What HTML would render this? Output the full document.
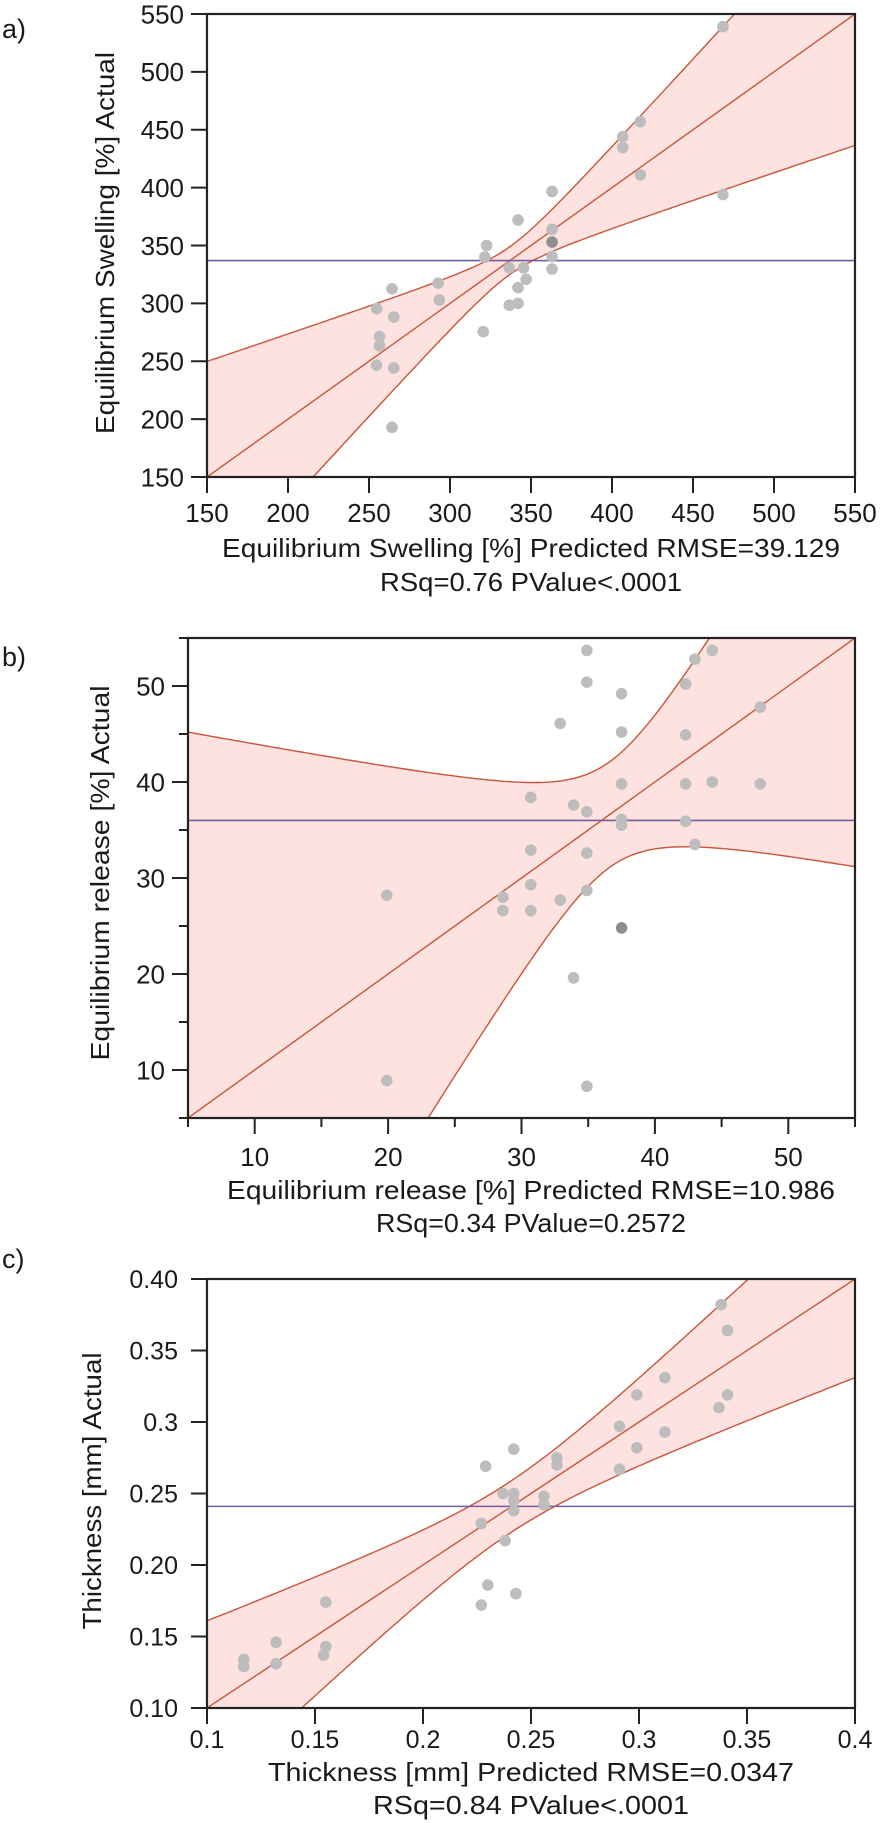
<!DOCTYPE html>
<html><head><meta charset="utf-8"><style>
html,body{margin:0;padding:0;background:#fff}
svg{display:block}
text{font-family:"Liberation Sans",sans-serif;fill:#1a1a1a}
</style></head><body>
<svg id="fig" width="892" height="1823" viewBox="0 0 892 1823" xmlns="http://www.w3.org/2000/svg"></svg>
<script>
// ---- Panel a data ----
const aPredicted = [468.5,417.5,406.6,406.6,417.5,468.5,363,342,363,363,363,363,322.6,321.5,336.6,345.4,347,342,336.6,342,320.5,292.7,293.4,264.2,254.7,265.3,256.5,256.5,254.7,265.3,264.2];
const aActual    = [539,457,444,434.6,411,394,396.7,372,364,353,340.6,329.7,350,340,330.7,330.7,320.8,313.6,298.4,300,275.6,317.5,303,312.6,295.4,288.2,271.4,263.4,246.6,244.3,192.9];
const aDark = [9];
const aTicks = [150,200,250,300,350,400,450,500,550];
const aMean = [337];
const aBand = [337, 12, 0.53]; // center, min half-width, slope factor
// ---- Panel b data ----
const bPredicted = [19.9,19.9,28.6,28.6,30.7,30.7,30.7,30.7,32.9,32.9,33.9,33.9,34.9,34.9,34.9,34.9,34.9,34.9,37.5,37.5,37.5,37.5,37.5,37.5,42.3,42.3,42.3,42.3,43.0,43.0,44.3,44.3,47.9,47.9];
const bActual    = [28.2,8.9,28.0,26.6,38.4,32.9,29.3,26.6,46.1,27.7,37.6,19.6,53.7,50.4,36.9,32.6,28.7,8.3,49.2,45.2,39.8,36.1,35.5,24.8,50.2,44.9,39.8,35.9,52.8,33.5,53.7,40.0,47.8,39.8];
const bDark = [23];
const bTicks = [10,20,30,40,50];
const bMinor = [5,15,25,35,45,55];
const bMean = [36];
const bBand = [36.6, 5.5, 1.26];
// ---- Panel c data ----
const cPredicted = [0.117,0.117,0.132,0.132,0.155,0.155,0.154,0.229,0.230,0.227,0.227,0.237,0.238,0.242,0.242,0.242,0.242,0.243,0.256,0.256,0.262,0.262,0.291,0.291,0.299,0.299,0.312,0.312,0.338,0.337,0.341,0.341];
const cActual    = [0.134,0.129,0.146,0.131,0.174,0.143,0.137,0.269,0.186,0.172,0.229,0.250,0.217,0.281,0.250,0.245,0.238,0.180,0.248,0.242,0.275,0.270,0.297,0.267,0.319,0.282,0.331,0.293,0.382,0.310,0.364,0.319];
const cDark = [];
const cTicks = [0.1,0.15,0.2,0.25,0.3,0.35,0.4];
const cTickLabelsX = ["0.1","0.15","0.2","0.25","0.3","0.35","0.4"];
const cTickLabelsY = ["0.10","0.15","0.20","0.25","0.3","0.35","0.40"];
const cMean = [0.241];
const cBand = [0.24, 0.018, 0.416];

const NS="http://www.w3.org/2000/svg";
const svg=document.getElementById('fig');
function mk(tag,attrs,parent){const e=document.createElementNS(NS,tag);for(const k in attrs)e.setAttribute(k,attrs[k]);(parent||svg).appendChild(e);return e;}

function panel(o){
  const g=mk('g',{});
  
  
  const sx=v=>o.x0+(v-o.xmin)/(o.xmax-o.xmin)*(o.x1-o.x0);
  const sy=v=>o.y1-(v-o.ymin)/(o.ymax-o.ymin)*(o.y1-o.y0);
  const cid='clip'+o.id;
  const cp=mk('clipPath',{id:cid},g);
  mk('rect',{x:o.x0,y:o.y0,width:o.x1-o.x0,height:o.y1-o.y0},cp);
  const pg=mk('g',{'clip-path':'url(#'+cid+')'},g);
  const N=200, up=[], lo=[];
  for(let i=0;i<=N;i++){const x=o.xmin+(o.xmax-o.xmin)*i/N;
    const h=Math.sqrt(o.band[1]*o.band[1]+o.band[2]*o.band[2]*(x-o.band[0])*(x-o.band[0]));
    up.push([sx(x),sy(x+h)]);lo.push([sx(x),sy(x-h)]);}
  const poly=up.concat(lo.slice().reverse()).map(p=>p[0].toFixed(1)+','+p[1].toFixed(1)).join(' ');
  const band=mk('polygon',{points:poly,fill:'#fde2e0',stroke:'none'},pg);
  
  
  const ul=mk('polyline',{points:up.map(p=>p[0].toFixed(1)+','+p[1].toFixed(1)).join(' '),fill:'none',stroke:'#c9553a','stroke-width':1.4},pg);
  
  
  const ll=mk('polyline',{points:lo.map(p=>p[0].toFixed(1)+','+p[1].toFixed(1)).join(' '),fill:'none',stroke:'#c9553a','stroke-width':1.4},pg);
  
  
  const fit=mk('line',{x1:sx(o.xmin),y1:sy(o.xmin),x2:sx(o.xmax),y2:sy(o.xmax),stroke:'#c9553a','stroke-width':1.4},pg);
  
  
  const mean=mk('line',{x1:o.x0,y1:sy(o.mean[0]),x2:o.x1,y2:sy(o.mean[0]),stroke:'#6f5f9e','stroke-width':1.6},pg);
  
  
  o.px.forEach((v,i)=>{const c=mk('circle',{cx:sx(v),cy:sy(o.py[i]),r:5.8,fill:o.dark.includes(i)?'#8e8e8e':'#bdbdbd'},pg);
    
    });
  const fr=mk('rect',{x:o.x0,y:o.y0,width:o.x1-o.x0,height:o.y1-o.y0,fill:'none',stroke:'#222','stroke-width':2.2},g);
  
  
  o.xt.forEach((v,i)=>{mk('line',{x1:sx(v),y1:o.y1,x2:sx(v),y2:o.y1+16,stroke:'#222','stroke-width':2},g);
    const t=mk('text',{x:sx(v),y:o.xly,'text-anchor':'middle','font-size':o.fs},g);t.textContent=o.xl[i];
    
    });
  o.yt.forEach((v,i)=>{mk('line',{x1:o.x0-16,y1:sy(v),x2:o.x0,y2:sy(v),stroke:'#222','stroke-width':2},g);
    const t=mk('text',{x:o.ylx,y:sy(v)+o.fs*0.36,'text-anchor':'end','font-size':o.fs},g);t.textContent=o.yl[i];
    
    });
  (o.minor||[]).forEach(v=>{mk('line',{x1:sx(v),y1:o.y1,x2:sx(v),y2:o.y1+9,stroke:'#222','stroke-width':2},g);
    mk('line',{x1:o.x0-9,y1:sy(v),x2:o.x0,y2:sy(v),stroke:'#222','stroke-width':2},g);});
  const xt1=mk('text',{x:531,y:o.cap1,'text-anchor':'middle','font-size':26,textLength:o.cap1w,lengthAdjust:'spacingAndGlyphs'},g);
  xt1.textContent=o.cap1t;
  
  
  const xt2=mk('text',{x:531,y:o.cap2,'text-anchor':'middle','font-size':26,textLength:o.cap2w,lengthAdjust:'spacingAndGlyphs'},g);
  xt2.textContent=o.cap2t;
  
  
  const yt=mk('text',{x:0,y:0,'text-anchor':'middle','font-size':26,textLength:o.ytw,lengthAdjust:'spacingAndGlyphs',transform:'translate('+o.ytx+','+o.yty+') rotate(-90)'},g);
  yt.textContent=o.ytt;
  
  
  const pl=mk('text',{x:2,y:o.lab,'font-size':27},g);
  pl.textContent=o.labt;
  
  
}

panel({id:'a',name:'panel-a-swelling',x0:207,x1:855,y0:14,y1:477,xmin:150,xmax:550,ymin:150,ymax:550,
  px:aPredicted,py:aActual,dark:aDark,mean:aMean,band:aBand,xt:aTicks,yt:aTicks,xl:aTicks.map(String),yl:aTicks.map(String),
  fs:26,xly:522,ylx:184,cap1:557,cap1w:618,cap1t:'Equilibrium Swelling [%] Predicted RMSE=39.129',
  cap2:591,cap2w:302,cap2t:'RSq=0.76 PValue<.0001',ytx:114,yty:243,ytw:382,ytt:'Equilibrium Swelling [%] Actual',lab:38,labt:'a)'});

panel({id:'b',name:'panel-b-release',x0:188,x1:855,y0:638,y1:1118,xmin:5,xmax:55,ymin:5,ymax:55,
  px:bPredicted,py:bActual,dark:bDark,mean:bMean,band:bBand,xt:bTicks,yt:bTicks,minor:bMinor,xl:bTicks.map(String),yl:bTicks.map(String),
  fs:26,xly:1166,ylx:165,cap1:1199,cap1w:608,cap1t:'Equilibrium release [%] Predicted RMSE=10.986',
  cap2:1232,cap2w:310,cap2t:'RSq=0.34 PValue=0.2572',ytx:109,yty:873,ytw:375,ytt:'Equilibrium release [%] Actual',lab:666,labt:'b)'});

panel({id:'c',name:'panel-c-thickness',x0:207,x1:855,y0:1279,y1:1708,xmin:0.1,xmax:0.4,ymin:0.1,ymax:0.4,
  px:cPredicted,py:cActual,dark:cDark,mean:cMean,band:cBand,xt:cTicks,yt:cTicks,xl:cTickLabelsX,yl:cTickLabelsY,
  fs:25,xly:1748,ylx:178,cap1:1781,cap1w:526,cap1t:'Thickness [mm] Predicted RMSE=0.0347',
  cap2:1814,cap2w:316,cap2t:'RSq=0.84 PValue<.0001',ytx:101,yty:1491,ytw:277,ytt:'Thickness [mm] Actual',lab:1268,labt:'c)'});
</script>
</body></html>
